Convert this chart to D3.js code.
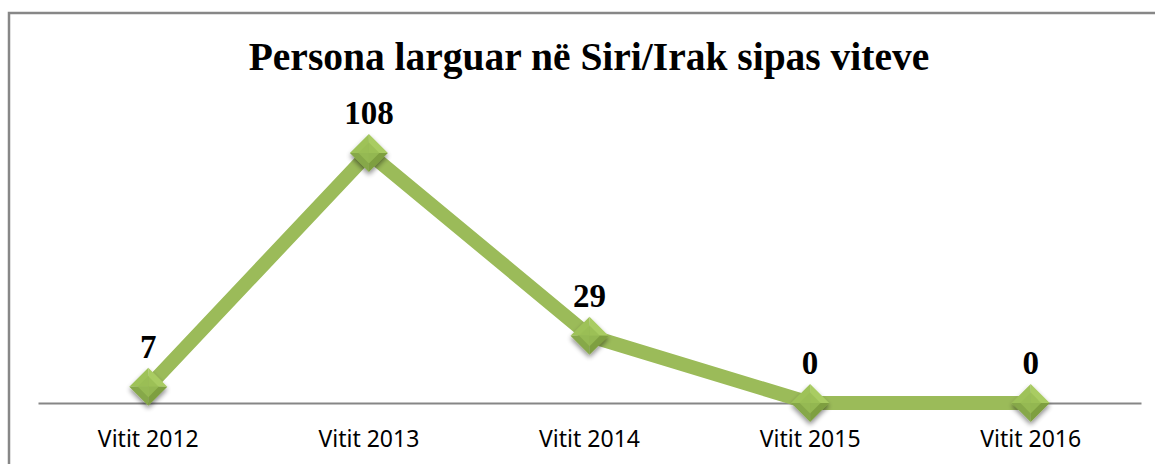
<!DOCTYPE html>
<html>
<head>
<meta charset="utf-8">
<script src="https://cdn.jsdelivr.net/npm/d3@7"></script>
<style>
  body { margin: 0; background: #fff; }
  svg { display: block; }
</style>
</head>
<body>
<script>
const categories = ['Vitit 2012', 'Vitit 2013', 'Vitit 2014', 'Vitit 2015', 'Vitit 2016'];
const values = [7, 108, 29, 0, 0];
const title = 'Persona larguar në Siri/Irak sipas viteve';

const W = 1155, H = 464;
const plot = { left: 38, right: 1141, top: 153, bottom: 403 };

const svg = d3.select('body').append('svg')
  .attr('width', W)
  .attr('height', H);

const defs = svg.append('defs');
const sh = defs.append('filter').attr('id', 'shadow')
  .attr('x', '-50%').attr('y', '-50%').attr('width', '200%').attr('height', '200%');
sh.append('feGaussianBlur').attr('in', 'SourceAlpha').attr('stdDeviation', 2.5);
sh.append('feOffset').attr('dx', 0).attr('dy', 3).attr('result', 'b');
sh.append('feComponentTransfer').append('feFuncA').attr('type', 'linear').attr('slope', 0.45);
const m = sh.append('feMerge');
m.append('feMergeNode');
m.append('feMergeNode').attr('in', 'SourceGraphic');

// frame (clipped on right and bottom in the original)
svg.append('rect')
  .attr('x', 9).attr('y', 13)
  .attr('width', 1170).attr('height', 480)
  .attr('fill', 'none')
  .attr('stroke', '#878787')
  .attr('stroke-width', 2.5);

const x = d3.scaleBand()
  .domain(categories)
  .range([plot.left, plot.right]);

const y = d3.scaleLinear()
  .domain([0, 108])
  .range([plot.bottom, plot.top]);

// title
svg.append('text')
  .attr('x', 589).attr('y', 70)
  .attr('text-anchor', 'middle')
  .attr('font-family', '"Liberation Serif", "DejaVu Serif", serif')
  .attr('font-weight', 'bold')
  .attr('font-size', 39.5)
  .attr('fill', '#000')
  .text(title);

// category axis
const axis = svg.append('g')
  .attr('transform', 'translate(0,' + plot.bottom + ')')
  .call(d3.axisBottom(x).tickSize(0).tickPadding(28));
axis.select('.domain').attr('stroke', '#868686').attr('stroke-width', 2);
axis.selectAll('text')
  .attr('font-family', '"Noto Sans", "Open Sans", sans-serif')
  .attr('font-size', 23)
  .attr('fill', '#000');

const cx = d => x(d) + x.bandwidth() / 2;

// line
const pts = categories.map((c, i) => ({ c: c, v: values[i] }));
svg.append('path')
  .datum(pts)
  .attr('fill', 'none')
  .attr('stroke', '#9bbb59')
  .attr('stroke-width', 14)
  .attr('stroke-linejoin', 'miter')
  .attr('d', d3.line()
    .x(d => cx(d.c))
    .y(d => y(d.v)));

// diamond markers with bevel look
const r = 19;
const mk = svg.selectAll('.mk')
  .data(pts)
  .enter().append('g')
  .attr('class', 'mk')
  .attr('transform', d => 'translate(' + cx(d.c) + ',' + y(d.v) + ')')
  .attr('filter', 'url(#shadow)');
mk.append('path').attr('d', `M0,${-r}L${r},0L0,0Z`).attr('fill', '#a9cc62');
mk.append('path').attr('d', `M0,${-r}L${-r},0L0,0Z`).attr('fill', '#9ec258');
mk.append('path').attr('d', `M${-r},0L0,${r}L0,0Z`).attr('fill', '#86a848');
mk.append('path').attr('d', `M${r},0L0,${r}L0,0Z`).attr('fill', '#7e9f40');
mk.append('path').attr('d', `M0,${-r * 0.55}L${r * 0.55},0L0,${r * 0.55}L${-r * 0.55},0Z`)
  .attr('fill', '#98bd55').attr('opacity', 0.8);

// data labels
svg.selectAll('.lbl')
  .data(pts)
  .enter().append('text')
  .attr('class', 'lbl')
  .attr('x', d => cx(d.c))
  .attr('y', d => y(d.v) - 29)
  .attr('text-anchor', 'middle')
  .attr('font-family', '"Liberation Serif", "DejaVu Serif", serif')
  .attr('font-weight', 'bold')
  .attr('font-size', 33)
  .attr('fill', '#000')
  .text(d => d.v);
</script>
</body>
</html>
